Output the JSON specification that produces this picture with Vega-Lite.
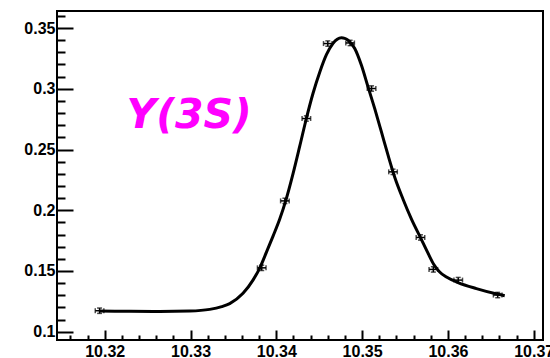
{
  "$schema": "https://vega.github.io/schema/vega-lite/v6.json",
  "width": 486,
  "height": 329,
  "autosize": "none",
  "padding": {"left": 57, "top": 11, "right": 7, "bottom": 18},
  "background": "white",
  "config": {
    "view": {"stroke": "black", "strokeWidth": 2},
    "axis": {
      "grid": false,
      "title": null,
      "zindex": 1,
      "domain": false,
      "ticks": true,
      "tickColor": "black",
      "tickOpacity": 1,
      "tickWidth": 2,
      "labelColor": "black",
      "labelFont": "Liberation Sans",
      "labelFontWeight": "bold",
      "labelFontSize": 16,
      "labelOverlap": false,
      "labelFlush": false
    }
  },
  "datasets": {
    "points": [
      {"x": 10.3194, "y": 0.1173, "ex": 0.0005, "ey": 0.0022},
      {"x": 10.3383, "y": 0.1526, "ex": 0.0005, "ey": 0.0022},
      {"x": 10.3410, "y": 0.2077, "ex": 0.0005, "ey": 0.0022},
      {"x": 10.3435, "y": 0.2755, "ex": 0.0005, "ey": 0.0022},
      {"x": 10.3460, "y": 0.3372, "ex": 0.0005, "ey": 0.0022},
      {"x": 10.3486, "y": 0.3377, "ex": 0.0005, "ey": 0.0022},
      {"x": 10.3511, "y": 0.3002, "ex": 0.0005, "ey": 0.0022},
      {"x": 10.3536, "y": 0.2316, "ex": 0.0005, "ey": 0.0022},
      {"x": 10.3568, "y": 0.1776, "ex": 0.0005, "ey": 0.0022},
      {"x": 10.3583, "y": 0.1513, "ex": 0.0005, "ey": 0.0022},
      {"x": 10.3612, "y": 0.1425, "ex": 0.0005, "ey": 0.0022},
      {"x": 10.3658, "y": 0.1302, "ex": 0.0005, "ey": 0.0022}
    ],
    "curve": [
      {"x": 10.31942, "y": 0.1170},
      {"x": 10.32291, "y": 0.1168},
      {"x": 10.32641, "y": 0.1166},
      {"x": 10.32991, "y": 0.1170},
      {"x": 10.33224, "y": 0.1184},
      {"x": 10.33364, "y": 0.1207},
      {"x": 10.33457, "y": 0.1232},
      {"x": 10.33612, "y": 0.1316},
      {"x": 10.33728, "y": 0.1425},
      {"x": 10.33807, "y": 0.1524},
      {"x": 10.33885, "y": 0.1655},
      {"x": 10.33962, "y": 0.1787},
      {"x": 10.34040, "y": 0.1927},
      {"x": 10.34110, "y": 0.2079},
      {"x": 10.34195, "y": 0.2301},
      {"x": 10.34273, "y": 0.2527},
      {"x": 10.34348, "y": 0.2749},
      {"x": 10.34428, "y": 0.2963},
      {"x": 10.34506, "y": 0.3136},
      {"x": 10.34584, "y": 0.3280},
      {"x": 10.34661, "y": 0.3374},
      {"x": 10.34710, "y": 0.3407},
      {"x": 10.34759, "y": 0.3419},
      {"x": 10.34797, "y": 0.3415},
      {"x": 10.34836, "y": 0.3399},
      {"x": 10.34914, "y": 0.3331},
      {"x": 10.34992, "y": 0.3193},
      {"x": 10.35069, "y": 0.3015},
      {"x": 10.35147, "y": 0.2836},
      {"x": 10.35225, "y": 0.2645},
      {"x": 10.35302, "y": 0.2453},
      {"x": 10.35380, "y": 0.2272},
      {"x": 10.35477, "y": 0.2091},
      {"x": 10.35575, "y": 0.1927},
      {"x": 10.35683, "y": 0.1771},
      {"x": 10.35765, "y": 0.1651},
      {"x": 10.35834, "y": 0.1556},
      {"x": 10.35904, "y": 0.1491},
      {"x": 10.35983, "y": 0.1450},
      {"x": 10.36118, "y": 0.1405},
      {"x": 10.36332, "y": 0.1355},
      {"x": 10.36584, "y": 0.1308},
      {"x": 10.36662, "y": 0.1296}
    ],
    "label": [
      {"x": 10.32985, "y": 0.2673, "text": "Y(3S)"}
    ]
  },
  "encoding": {
    "x": {
      "field": "x", "type": "quantitative", "title": null,
      "scale": {"domain": [10.31444, 10.37108], "nice": false, "zero": false},
      "axis": {
        "values": [10.316, 10.318, 10.32, 10.322, 10.324, 10.326, 10.328, 10.33, 10.332, 10.334, 10.336, 10.338, 10.34, 10.342, 10.344, 10.346, 10.348, 10.35, 10.352, 10.354, 10.356, 10.358, 10.36, 10.362, 10.364, 10.366, 10.368, 10.37],
        "labelExpr": "abs(datum.value*100 - round(datum.value*100)) < 0.001 ? format(datum.value, '.2f') : ''",
        "offset": -10,
        "tickSize": 10,
        "tickDash": {"condition": {"test": "abs(datum.value*100 - round(datum.value*100)) < 0.001", "value": [10, 1]}, "value": [0, 5, 5, 100]},
        "labelPadding": 3
      }
    },
    "y": {
      "field": "y", "type": "quantitative", "title": null,
      "scale": {"domain": [0.0932, 0.364], "nice": false, "zero": false},
      "axis": {
        "values": [0.1, 0.11, 0.12, 0.13, 0.14, 0.15, 0.16, 0.17, 0.18, 0.19, 0.2, 0.21, 0.22, 0.23, 0.24, 0.25, 0.26, 0.27, 0.28, 0.29, 0.3, 0.31, 0.32, 0.33, 0.34, 0.35, 0.36],
        "labelExpr": "abs(datum.value*20 - round(datum.value*20)) < 0.001 ? format(datum.value, '~g') : ''",
        "offset": -16,
        "tickSize": 16,
        "tickDash": {"condition": {"test": "abs(datum.value*20 - round(datum.value*20)) < 0.001", "value": [16, 1]}, "value": [0, 8, 8, 100]},
        "labelPadding": 2
      }
    }
  },
  "layer": [
    {
      "data": {"name": "curve"},
      "mark": {"type": "line", "interpolate": "monotone", "strokeWidth": 3, "color": "black"}
    },
    {
      "data": {"name": "points"},
      "mark": {"type": "errorbar", "ticks": true, "color": "black", "thickness": 1.5},
      "encoding": {
        "yError": {"field": "ey"}
      }
    },
    {
      "data": {"name": "points"},
      "mark": {"type": "errorbar", "ticks": true, "color": "black", "thickness": 1.5, "orient": "horizontal"},
      "encoding": {
        "xError": {"field": "ex"}
      }
    },
    {
      "data": {"name": "label"},
      "mark": {"type": "text", "font": "DejaVu Sans", "fontWeight": "bold", "fontStyle": "italic", "fontSize": 41, "color": "#ff00ff", "align": "center", "baseline": "alphabetic"},
      "encoding": {
        "text": {"field": "text"}
      }
    }
  ]
}
